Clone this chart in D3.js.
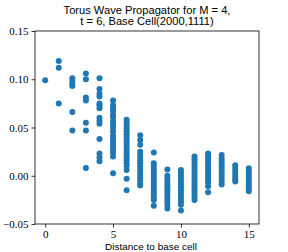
<!DOCTYPE html>
<html>
<head>
<meta charset="UTF-8">
<style>
  body { margin: 0; background: white; }
  svg { display: block; }
  .tick text { font-family: "Liberation Serif", serif; font-size: 10px; fill: #000; }
  .title, .xlabel { font-family: "Liberation Sans", "DejaVu Sans", sans-serif; fill: #000; }
</style>
</head>
<body>
<svg width="288" height="252"></svg>
<script src="https://d3js.org/d3.v7.min.js"></script>
<script>
// distance to base cell, and the propagator values seen at each distance
const distances = [0, 1, 2, 3, 4, 5, 6, 7, 8, 9, 10, 11, 12, 13, 14, 15];
const amplitudes = [
  [0.099],
  [0.119, 0.112, 0.075],
  [0.101, 0.098, 0.095, 0.093, 0.066, 0.047],
  [0.106, 0.100, 0.081, 0.078, 0.055, 0.047, 0.008],
  [0.101, 0.090, 0.085, 0.082, 0.075, 0.073, 0.070, 0.060, 0.057, 0.054, 0.038, 0.023, 0.019, 0.015],
  [0.078, 0.073, 0.070, 0.067, 0.063, 0.060, 0.056, 0.053, 0.050, 0.046, 0.042, 0.039, 0.036, 0.033, 0.030, 0.027, 0.024, 0.020, 0.0025],
  [0.058, 0.055, 0.052, 0.049, 0.046, 0.043, 0.040, 0.037, 0.034, 0.031, 0.028, 0.025, 0.022, 0.019, 0.016, 0.013, 0.010, 0.006, -0.003, -0.015],
  [0.042, 0.037, 0.032, 0.025, 0.022, 0.019, 0.016, 0.013, 0.010, 0.007, 0.004, 0.001, -0.002, -0.005, -0.008, -0.010],
  [0.024, 0.013, 0.010, 0.007, 0.004, 0.001, -0.002, -0.005, -0.008, -0.011, -0.014, -0.017, -0.020, -0.023, -0.025, -0.031],
  [0.0065, 0.000, -0.003, -0.006, -0.009, -0.012, -0.015, -0.018, -0.021, -0.024, -0.027, -0.030, -0.034],
  [0.006, 0.003, 0.000, -0.003, -0.006, -0.009, -0.012, -0.015, -0.018, -0.021, -0.024, -0.027, -0.030, -0.036],
  [0.020, 0.017, 0.014, 0.011, 0.008, 0.005, 0.002, -0.001, -0.004, -0.007, -0.010, -0.013, -0.016, -0.019, -0.022, -0.025],
  [0.023, 0.020, 0.017, 0.014, 0.011, 0.008, 0.005, 0.002, -0.001, -0.004, -0.007, -0.011, -0.017],
  [0.0215, 0.018, 0.015, 0.012, 0.009, 0.006, 0.003, 0.000, -0.003, -0.006, -0.009],
  [0.011, 0.008, 0.005, 0.002, -0.001, -0.004, -0.006],
  [0.0077, 0.005, 0.002, -0.001, -0.004, -0.007, -0.010, -0.013, -0.016]
];
const xTicks = [0, 5, 10, 15];
const yTicks = [-0.05, 0.00, 0.05, 0.10, 0.15];
const titleLines = ["Torus Wave Propagator for M = 4,", "t = 6, Base Cell(2000,1111)"];
const xLabel = "Distance to base cell";

const svg = d3.select("svg");
const margin = { left: 35, right: 29, top: 31, bottom: 28 };
const width = 288, height = 252;

const x = d3.scaleLinear().domain([-0.75, 15.75]).range([margin.left, width - margin.right]);
const y = d3.scaleLinear().domain([-0.05, 0.15]).range([height - margin.bottom, margin.top]);

// flatten into points
const points = [];
distances.forEach((d, i) => amplitudes[i].forEach(v => points.push({ d, v })));

svg.append("g")
  .selectAll("circle")
  .data(points)
  .join("circle")
  .attr("cx", p => x(p.d))
  .attr("cy", p => y(p.v))
  .attr("r", 3)
  .attr("fill", "#1f77b4");

// frame
svg.append("rect")
  .attr("x", margin.left).attr("y", margin.top)
  .attr("width", width - margin.left - margin.right)
  .attr("height", height - margin.top - margin.bottom)
  .attr("fill", "none").attr("stroke", "#000").attr("stroke-width", 0.8);

const xAxis = svg.append("g")
  .attr("transform", `translate(0,${height - margin.bottom})`)
  .call(d3.axisBottom(x).tickValues(xTicks).tickFormat(d3.format("d")).tickSize(3.5).tickPadding(3));
const yAxis = svg.append("g")
  .attr("transform", `translate(${margin.left},0)`)
  .call(d3.axisLeft(y).tickValues(yTicks).tickFormat(d => d3.format(".2f")(d).replace("-", "\u2212")).tickSize(3.5).tickPadding(3));
[xAxis, yAxis].forEach(a => {
  a.select(".domain").remove();
  a.selectAll(".tick line").attr("stroke", "#000").attr("stroke-width", 0.8);
});
// serif tick labels a little wider, like the reference
svg.selectAll(".tick text").style("font-size", "11px");

const title = svg.selectAll(".title")
  .data(titleLines)
  .join("text")
  .attr("class", "title")
  .attr("x", (margin.left + width - margin.right) / 2)
  .attr("y", (d, i) => 13.5 + i * 11.5)
  .attr("text-anchor", "middle")
  .attr("font-size", 11)
  .text(d => d);
// match the reference title width (about 167px for the first line)
const w0 = title.node().getComputedTextLength();
title.attr("font-size", 11 * 167 / w0);

const xl = svg.append("text")
  .attr("class", "xlabel")
  .attr("x", 151)
  .attr("y", 249.5)
  .attr("text-anchor", "middle")
  .attr("font-size", 10)
  .text(xLabel);
xl.attr("font-size", 10 * 92 / xl.node().getComputedTextLength());
</script>
</body>
</html>
